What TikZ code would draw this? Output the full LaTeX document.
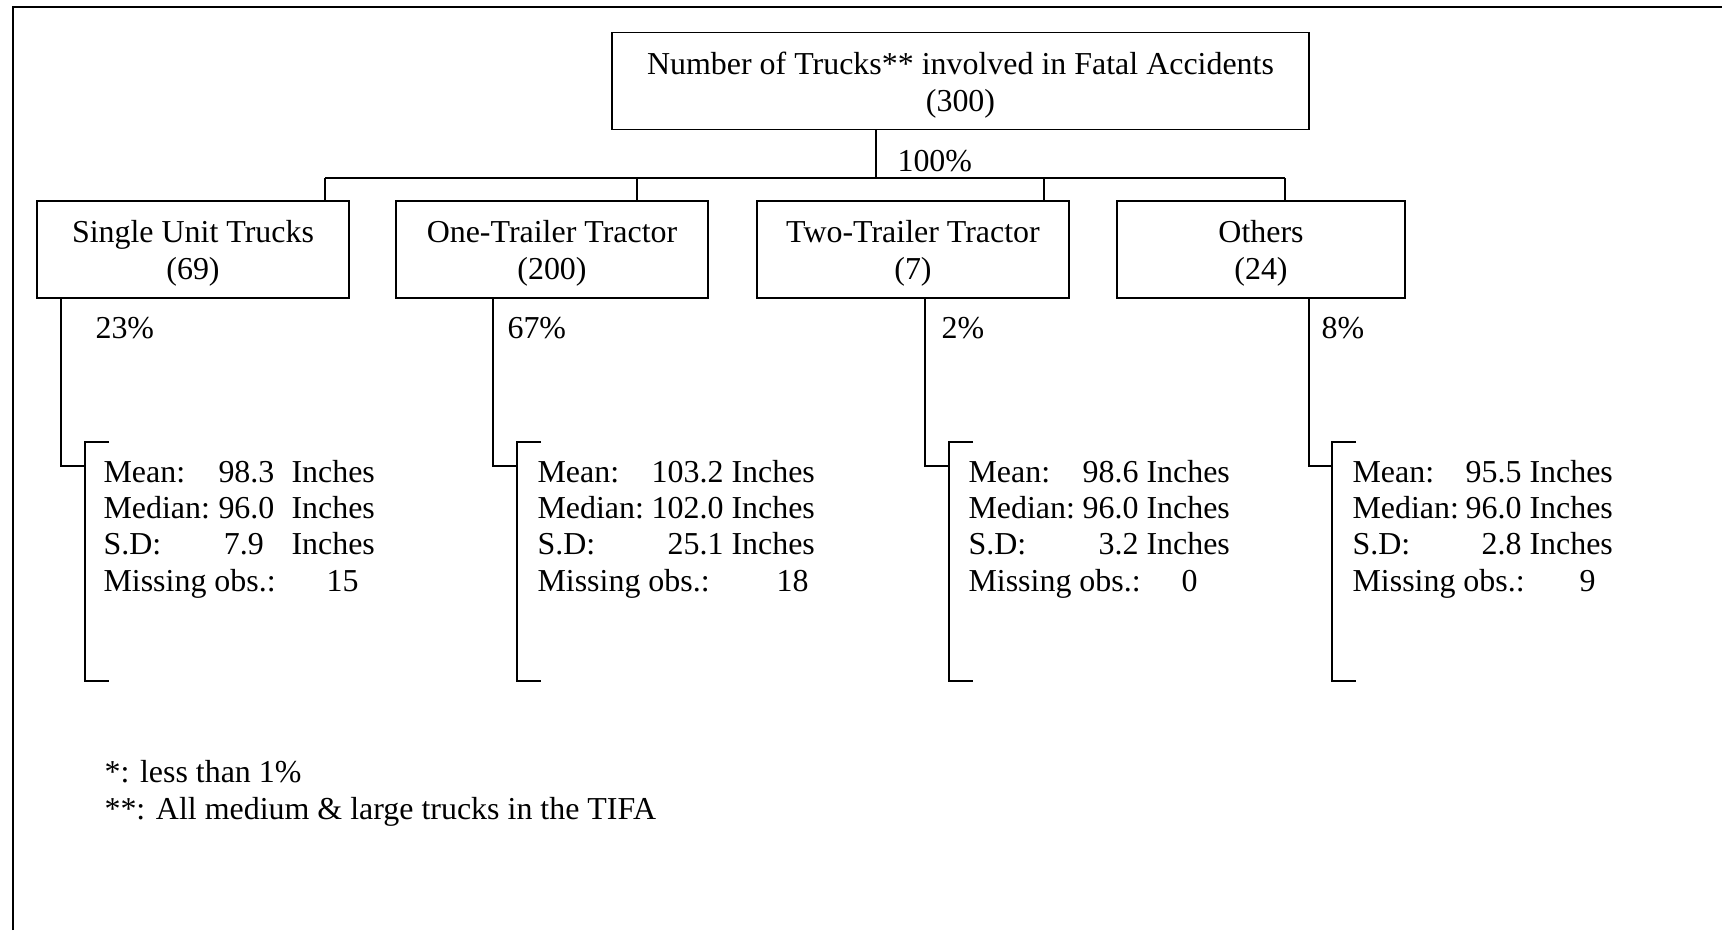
\documentclass[tikz,border=0pt]{standalone}
\usepackage{fontspec}
\setmainfont{Liberation Serif}
\usetikzlibrary{positioning}
\newlength{\px}
\setlength{\px}{0.3757pt}
% label left, value pushed right to a fixed width
\newcommand{\statrow}[3]{\makebox[#1\px][l]{#2\hfill#3}}
\newcommand{\statcol}[2]{\makebox[#1\px][l]{#2}}
% a little extra room over the first line of a box
\newcommand{\toppad}{\rule{0pt}{11.4pt}}

\begin{document}
\begin{tikzpicture}[x=0.3757pt,y=-0.3757pt,
    every node/.style={font=\fontsize{12}{14}\selectfont},
    catbox/.style={draw,line width=0.7pt,align=center,minimum height=97\px,inner sep=0pt},
    link/.style={line width=0.5pt},
    pct/.style={anchor=base west,inner sep=0pt},
    stats/.style={anchor=base west,inner sep=0pt,font=\fontsize{12}{13.7}\selectfont}]
    \useasboundingbox (0,0) rectangle (1722,930);
    % frame of the page, only left and top edges show
    \draw[line width=0.8pt] (13,930) -- (13,7) -- (1722,7);

    \node[catbox,minimum width=697\px] (total) at (960.5,81)
        {\toppad Number of Trucks** involved in Fatal Accidents\\(300)};

    \node[catbox,minimum width=312\px] (single) at (193,249.5) {\toppad Single Unit Trucks\\(69)};
    \node[catbox,minimum width=312\px] (onetr) at (552,249.5) {\toppad One-Trailer Tractor\\(200)};
    \node[catbox,minimum width=312\px] (twotr) at (913,249.5) {\toppad Two-Trailer Tractor\\(7)};
    \node[catbox,minimum width=288\px] (others) at (1261,249.5) {\toppad Others\\(24)};

    % tree lines
    \coordinate (split) at (876,178);
    \coordinate (dropA) at (325,178);
    \coordinate (dropB) at (637,178);
    \coordinate (dropC) at (1044,178);
    \coordinate (dropD) at (1285,178);
    \draw[link] (total.south -| split) -- (split);
    \draw[link] (dropA) -- (dropD);
    \foreach \d/\b in {dropA/single,dropB/onetr,dropC/twotr,dropD/others}
    {
        \draw[link] (\d) -- (\d |- \b.north);
    }
    \node[pct] (pctall) at (897,171) {100\%};

    % branches down to the brackets
    \foreach \b/\s/\k/\lx/\p in {single/61/85/95/23,onetr/493/517/507/67,
                                 twotr/925/949/941/2,others/1309/1332/1321/8}
    {
        \coordinate (elbow-\b) at (\s,466);
        \coordinate (brk-\b) at (\k,466);
        \draw[link] (\b.south -| elbow-\b) -- (elbow-\b) -- (brk-\b);
        \draw[link] (\k+24,442) -- (\k,442) -- (\k,681) -- (\k+24,681);
        \node[pct] (pct-\b) at (\lx,338) {\p\%};
    }

    \node[stats] (stat-single) at (103,482) {\begin{tabular}[t]{@{}l@{}}
        \statcol{115}{Mean:}\statcol{73}{98.3}Inches\\
        \statcol{115}{Median:}\statcol{73}{96.0}Inches\\
        \statcol{115}{S.D:}\statcol{73}{\,7.9}Inches\\
        \statrow{255}{Missing obs.:}{15}
    \end{tabular}};
    \node[stats] (stat-onetr) at (537,482) {\begin{tabular}[t]{@{}l@{}}
        \statrow{186}{Mean:}{103.2} Inches\\
        \statrow{186}{Median:}{102.0} Inches\\
        \statrow{186}{S.D:}{25.1} Inches\\
        \statrow{271}{Missing obs.:}{18}
    \end{tabular}};
    \node[stats] (stat-twotr) at (968,482) {\begin{tabular}[t]{@{}l@{}}
        \statrow{170}{Mean:}{98.6} Inches\\
        \statrow{170}{Median:}{96.0} Inches\\
        \statrow{170}{S.D:}{3.2} Inches\\
        \statrow{229}{Missing obs.:}{0}
    \end{tabular}};
    \node[stats] (stat-others) at (1352,482) {\begin{tabular}[t]{@{}l@{}}
        \statrow{169}{Mean:}{95.5} Inches\\
        \statrow{169}{Median:}{96.0} Inches\\
        \statrow{169}{S.D:}{2.8} Inches\\
        \statrow{243}{Missing obs.:}{9}
    \end{tabular}};

    \node[pct] (notes) at (104,782) {\begin{tabular}[t]{@{}l@{}}
        *: less than 1\%\\
        {}**: All medium \& large trucks in the TIFA
    \end{tabular}};
\end{tikzpicture}
\end{document}
